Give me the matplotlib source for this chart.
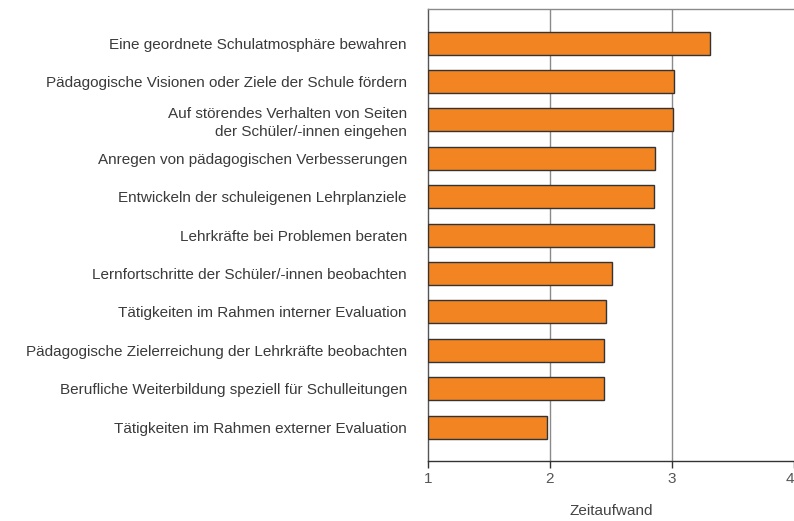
import numpy as np
import matplotlib.pyplot as plt

plt.rcParams['font.family'] = ['Liberation Sans', 'DejaVu Sans']

# data
categories = [
    "Eine geordnete Schulatmosphäre bewahren",
    "Pädagogische Visionen oder Ziele der Schule fördern",
    "Auf störendes Verhalten von Seiten\nder Schüler/-innen eingehen",
    "Anregen von pädagogischen Verbesserungen",
    "Entwickeln der schuleigenen Lehrplanziele",
    "Lehrkräfte bei Problemen beraten",
    "Lernfortschritte der Schüler/-innen beobachten",
    "Tätigkeiten im Rahmen interner Evaluation",
    "Pädagogische Zielerreichung der Lehrkräfte beobachten",
    "Berufliche Weiterbildung speziell für Schulleitungen",
    "Tätigkeiten im Rahmen externer Evaluation",
]
values = [3.31, 3.02, 3.01, 2.86, 2.85, 2.85, 2.51, 2.46, 2.44, 2.44, 1.98]
x_ticks = [1, 2, 3, 4]
x_label = "Zeitaufwand"

fig = plt.figure(figsize=(7.94, 5.21), dpi=100)
ax = fig.add_axes([0.5387, 0.1152, 0.4613, 0.8669])

y = np.arange(len(categories))
base = x_ticks[0]
widths = [v - base for v in values]

# grid lines at 2 and 3
for gx in x_ticks[1:-1]:
    ax.axvline(gx, color='#8a8a8a', lw=1.0, zorder=0)

ax.barh(y, widths, left=base, height=0.6, color='#F28522',
        edgecolor='#333333', linewidth=1.0, zorder=3)

ax.set_xlim(1, 4)
ax.set_ylim(len(categories) - 1 + 0.88, -0.88)
ax.set_xticks(x_ticks)
ax.set_xticklabels([str(t) for t in x_ticks], fontsize=11, color='#555555')
# last label sits on the figure edge, keep it inside
ax.get_xticklabels()[-1].set_horizontalalignment('right')
ax.set_yticks(y)
ax.set_yticklabels(categories, fontsize=11, color='#3a3a3a', linespacing=1.35)
ax.tick_params(axis='y', length=0, pad=15)
ax.tick_params(axis='x', length=5, width=1, color='#333333', pad=3)
ax.set_xlabel(x_label, fontsize=11, color='#444444', labelpad=13)

ax.spines['right'].set_visible(False)
ax.spines['top'].set_color('#8a8a8a')
ax.spines['left'].set_color('#555555')
ax.spines['bottom'].set_color('#333333')
for s in ax.spines.values():
    s.set_linewidth(1.0)

fig.savefig('out.png', dpi=100)
